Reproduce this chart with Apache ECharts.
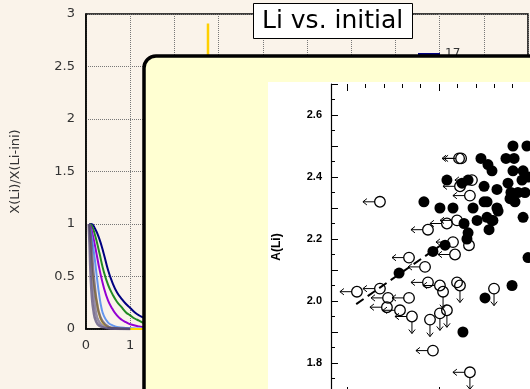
<!DOCTYPE html>
<html><head><meta charset="utf-8">
<script src="https://cdn.jsdelivr.net/npm/echarts@6/dist/echarts.min.js"></script>
<style>html,body{margin:0;padding:0;background:#faf3ea}#c{width:530px;height:389px}</style>
</head><body><div id="c"></div>
<script>
// ---------- background chart: X(Li)/X(Li-ini) ----------
const curveNames = ['17','16','15','14','13','12','11','10'];
const curveColors = ['#000080','#228b22','#9400d3','#6495ed','#ffd700','rgba(75,65,115,0.7)','rgba(105,95,135,0.7)','rgba(70,60,110,0.65)'];
const curveNavy = [[0.07,1],[0.12,1],[0.2,0.96],[0.3,0.86],[0.4,0.72],[0.5,0.56],[0.6,0.44],[0.7,0.35],[0.8,0.29],[0.9,0.24],[1.0,0.2],[1.1,0.16],[1.2,0.13],[1.3,0.11],[1.6,0.07],[2.0,0.04],[3.0,0.015]];
const curveGreen = [[0.07,1],[0.12,0.99],[0.2,0.9],[0.3,0.73],[0.4,0.55],[0.5,0.42],[0.6,0.33],[0.7,0.26],[0.8,0.21],[0.9,0.16],[1.0,0.13],[1.1,0.1],[1.2,0.08],[1.3,0.06],[1.6,0.035],[2.0,0.02],[3.0,0.005]];
const curvePurple = [[0.07,1],[0.1,0.98],[0.15,0.9],[0.2,0.8],[0.25,0.69],[0.3,0.58],[0.4,0.4],[0.5,0.27],[0.6,0.19],[0.7,0.13],[0.8,0.09],[0.9,0.065],[1.0,0.045],[1.2,0.025],[1.4,0.015],[2.0,0.005]];
const curveBlue = [[0.07,1],[0.1,0.95],[0.15,0.82],[0.2,0.66],[0.25,0.48],[0.3,0.32],[0.35,0.2],[0.4,0.13],[0.5,0.06],[0.6,0.035],[0.7,0.02],[0.9,0.01],[1.2,0.005],[2.0,0]];
const curveGold = [[0.07,1],[0.1,0.85],[0.13,0.62],[0.16,0.48],[0.2,0.36],[0.25,0.24],[0.3,0.14],[0.38,0.06],[0.5,0.02],[0.7,0.005],[1.0,0],[2.0,0]];
const curveGray1 = [[0.06,1],[0.08,0.8],[0.1,0.55],[0.13,0.32],[0.17,0.17],[0.22,0.08],[0.3,0.03],[0.45,0.01],[1.0,0]];
const curveGray2 = [[0.07,1],[0.1,0.8],[0.13,0.55],[0.17,0.33],[0.22,0.17],[0.28,0.08],[0.38,0.03],[0.55,0.005],[1.0,0]];
const curveGray3 = [[0.08,1],[0.12,0.82],[0.16,0.58],[0.2,0.4],[0.25,0.24],[0.32,0.12],[0.42,0.05],[0.6,0.01],[1.0,0]];
const spikeLine = [[2.76,0],[2.76,2.91]];

// ---------- inset figure: A(Li) vs Teff ----------
const detections = [[5918,2.32],[6005,2.30],[6076,2.30],[6185,2.30],[6261,2.32],[6315,2.30],[6321,2.29],[6457,2.27],[6207,2.26],[6261,2.27],[6293,2.26],[6272,2.23],[6136,2.25],[6158,2.22],[6152,2.20],[6033,2.18],[5967,2.16],[5783,2.09],[6484,2.14],[6397,2.05],[6250,2.01],[6130,1.90],[6043,2.39],[6125,2.38],[6158,2.39],[6228,2.46],[6266,2.44],[6288,2.42],[6364,2.46],[6408,2.46],[6402,2.50],[6478,2.50],[6402,2.42],[6457,2.42],[6375,2.38],[6451,2.39],[6484,2.40],[6245,2.37],[6315,2.36],[6391,2.35],[6429,2.35],[6467,2.35],[6245,2.32],[6386,2.33],[6413,2.32],[6288,2.26]];
const limitsLeft = [[6109,2.46],[6120,2.46],[6114,2.37],[6179,2.39],[6168,2.34],[5679,2.32],[5940,2.23],[6043,2.25],[6098,2.26],[6076,2.19],[6087,2.15],[5837,2.14],[5924,2.11],[5554,2.03],[5679,2.04],[5723,2.01],[5837,2.01],[5717,1.98],[5940,2.06],[6005,2.05],[5788,1.97],[5967,1.84]];
const limitsOpen = [[6163,2.18],[6098,2.06]];
const limitsDown = [[6114,2.05],[6022,2.03],[5951,1.94],[6005,1.96],[6043,1.97],[6299,2.04]];
const limitsBoth = [[5853,1.95],[6168,1.77]];
const trendLine = [[5550,1.99],[6010,2.18]];

function limitRenderer(left, down){
  return function(params, api){
    const p = api.coord([api.value(0), api.value(1)]);
    const cx = p[0], cy = p[1], r = 5.3, L = 17, h = 4, w = 3.2;
    const ls = {stroke:'#000', lineWidth:1, fill:null};
    const ch = [];
    if (left) {
      ch.push({type:'polyline', shape:{points:[[cx-r,cy],[cx-L,cy]]}, style:ls});
      ch.push({type:'polyline', shape:{points:[[cx-L+h,cy-w],[cx-L,cy],[cx-L+h,cy+w]]}, style:ls});
    }
    if (down) {
      ch.push({type:'polyline', shape:{points:[[cx,cy+r],[cx,cy+L]]}, style:ls});
      ch.push({type:'polyline', shape:{points:[[cx-w,cy+L-h],[cx,cy+L],[cx+w,cy+L-h]]}, style:ls});
    }
    ch.push({type:'circle', shape:{cx:cx, cy:cy, r:r}, style:{stroke:'#000', lineWidth:1.3, fill:null}});
    return {type:'group', children:ch};
  };
}

const chart = echarts.init(document.getElementById('c'), null, {renderer:'canvas'});
const curves = [curveNavy, curveGreen, curvePurple, curveBlue, curveGold, curveGray1, curveGray2, curveGray3];
const lineSeries = curves.map((d,i)=>({
  name: curveNames[i], type:'line', xAxisIndex:0, yAxisIndex:0, data:d, smooth:true, symbol:'none',
  lineStyle:{color:curveColors[i], width: i>=5 ? 2.5 : 2}, itemStyle:{color:curveColors[i]}, z:2
}));
const legendData = curveNames.map((n,i)=>({name:n, icon:'rect', itemStyle:{color:curveColors[i], borderWidth:0, opacity:1}}));
const insetZ = 60;
const bg = '#faf3ea';
chart.setOption({
  backgroundColor: bg,
  animation:false,
  title:{text:'Li vs. initial', left:253, top:3, backgroundColor:'#fff', borderColor:'#000', borderWidth:1,
    padding:[4,9,3,9], textStyle:{fontSize:25, fontWeight:'normal', color:'#000', fontFamily:'DejaVu Sans', lineHeight:29}},
  legend:{data:legendData, orient:'vertical', left:413, top:43, itemWidth:22, itemHeight:2, itemGap:6, z:20,
    textStyle:{fontSize:12, color:'#333', fontFamily:'DejaVu Sans'}},
  grid:[
    {left:86, top:14, right:2, bottom:60, show:true, borderColor:'#000', borderWidth:1.5, outerBoundsMode:'none', containLabel:false},
    {left:347, top:84, right:-47, bottom:-5, outerBoundsMode:'none', containLabel:false},
    {left:331, top:84, right:-47, bottom:-5, outerBoundsMode:'none', containLabel:false}
  ],
  xAxis:[
    {gridIndex:0, type:'value', min:0, max:10, interval:1,
      axisLine:{lineStyle:{color:'#000', width:1.5}}, axisTick:{show:false},
      axisLabel:{color:'#333', fontSize:13, margin:10, fontFamily:'DejaVu Sans'},
      splitLine:{show:true, lineStyle:{type:'dotted', color:'#777'}}},
    {gridIndex:1, type:'value', position:'bottom', min:5500, max:6750, interval:500, z:insetZ,
      axisLine:{show:false}, axisTick:{inside:true, length:7, lineStyle:{color:'#000'}},
      minorTick:{show:true, splitNumber:5, length:4, lineStyle:{color:'#000'}},
      axisLabel:{show:false}, splitLine:{show:false}, minorSplitLine:{show:false}},
    {gridIndex:1, type:'value', position:'top', min:5500, max:6750, interval:500, z:insetZ,
      axisLine:{show:false}, axisTick:{inside:true, length:7, lineStyle:{color:'#000'}},
      minorTick:{show:true, splitNumber:5, length:4, lineStyle:{color:'#000'}},
      axisLabel:{show:false}, splitLine:{show:false}},
    {gridIndex:2, type:'value', position:'top', min:0, max:1, z:insetZ,
      axisLine:{lineStyle:{color:'#000', width:1.2}}, axisTick:{show:false}, axisLabel:{show:false}, splitLine:{show:false}},
    {gridIndex:2, type:'value', position:'bottom', min:0, max:1, z:insetZ,
      axisLine:{lineStyle:{color:'#000', width:1.2}}, axisTick:{show:false}, axisLabel:{show:false}, splitLine:{show:false}}
  ],
  yAxis:[
    {gridIndex:0, type:'value', min:0, max:3, interval:0.5,
      name:'X(Li)/X(Li-ini)', nameLocation:'middle', nameGap:64,
      nameTextStyle:{fontSize:13, color:'#333', fontFamily:'DejaVu Sans'},
      axisLine:{show:true, lineStyle:{color:'#000', width:1.5}}, axisTick:{show:false},
      axisLabel:{color:'#333', fontSize:13, margin:11, fontFamily:'DejaVu Sans'},
      splitLine:{show:true, lineStyle:{type:'dotted', color:'#777'}}},
    {gridIndex:1, type:'value', min:1.7, max:2.7, interval:0.1, offset:16, z:insetZ,
      axisLine:{show:true, lineStyle:{color:'#000', width:1.2}},
      axisTick:{inside:true, length:7, lineStyle:{color:'#000'}},
      minorTick:{show:true, splitNumber:2, length:4, lineStyle:{color:'#000'}},
      axisLabel:{margin:9, fontSize:11, fontWeight:'bold', color:'#000', fontFamily:'Liberation Sans',
        formatter:v=> (Math.round(v*10)%2===0 ? v.toFixed(1) : '')},
      splitLine:{show:false}},
    {gridIndex:2, type:'value', show:false, min:0, max:1}
  ],
  graphic:{elements:[
    {type:'rect', z:50, shape:{x:144, y:56, width:420, height:360, r:12}, style:{fill:'#ffffd2', stroke:'#000', lineWidth:3.5}},
    {type:'rect', z:51, shape:{x:268, y:82, width:280, height:320}, style:{fill:'#fff'}},
    {type:'text', z:62, x:277, y:247, rotation:Math.PI/2, style:{text:'A(Li)', fill:'#000', font:'bold 12px "Liberation Sans"', align:'center', verticalAlign:'middle'}}
  ]},
  series: lineSeries.concat([
    {name:'spike', type:'line', xAxisIndex:0, yAxisIndex:0, data:spikeLine, symbol:'none', lineStyle:{color:'#ffd000', width:2.5}, z:2},
    {name:'trend', type:'line', xAxisIndex:1, yAxisIndex:1, data:trendLine, symbol:'none', z:insetZ,
      lineStyle:{color:'#000', width:2, type:[9,5]}},
    {name:'det', type:'scatter', xAxisIndex:1, yAxisIndex:1, data:detections, symbol:'circle', symbolSize:11, z:insetZ,
      itemStyle:{color:'#000', opacity:1}},
    {name:'limL', type:'custom', xAxisIndex:1, yAxisIndex:1, data:limitsLeft, renderItem:limitRenderer(true,false), z:insetZ, clip:false},
    {name:'limO', type:'custom', xAxisIndex:1, yAxisIndex:1, data:limitsOpen, renderItem:limitRenderer(false,false), z:insetZ, clip:false},
    {name:'limD', type:'custom', xAxisIndex:1, yAxisIndex:1, data:limitsDown, renderItem:limitRenderer(false,true), z:insetZ, clip:false},
    {name:'limB', type:'custom', xAxisIndex:1, yAxisIndex:1, data:limitsBoth, renderItem:limitRenderer(true,true), z:insetZ, clip:false}
  ])
});
</script></body></html>
